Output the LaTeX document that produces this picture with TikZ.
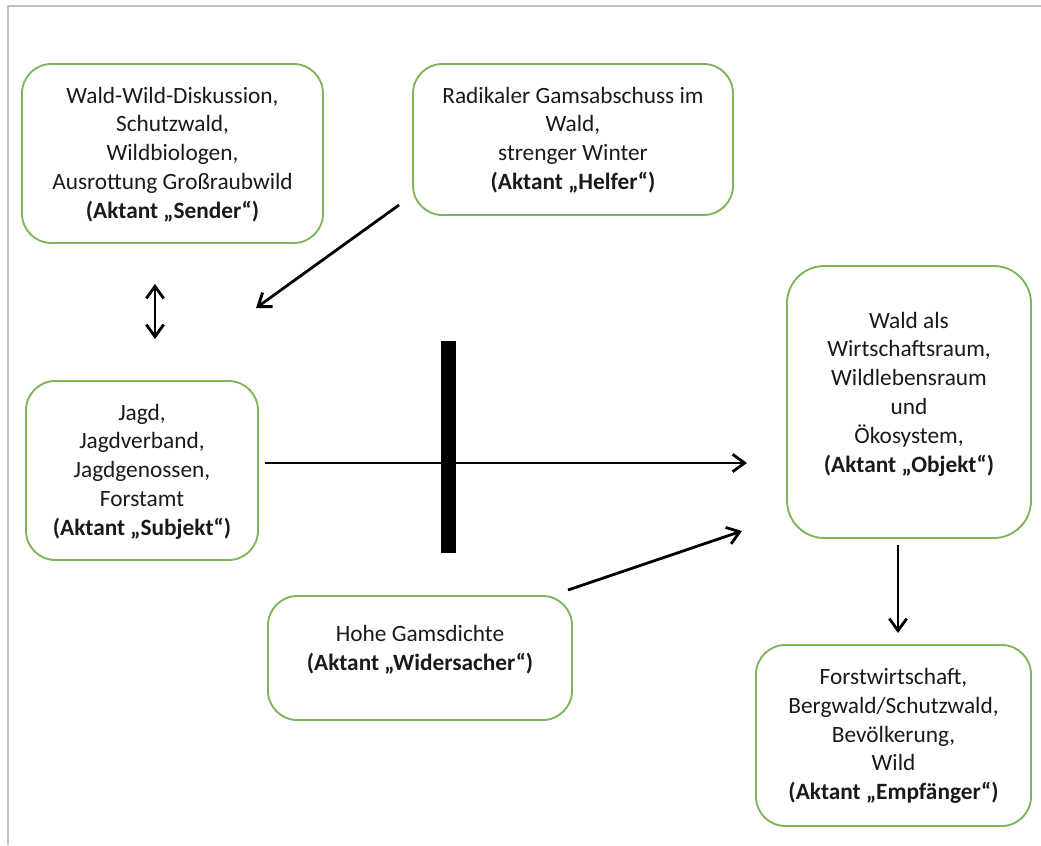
\documentclass[tikz,border=0pt]{standalone}
\usepackage{fontspec}
\setmainfont{Carlito}
\usetikzlibrary{arrows.meta}
\definecolor{boxgreen}{HTML}{7DB658}
\definecolor{framegray}{HTML}{C0C0C0}
\definecolor{ink}{HTML}{1A1A1A}
\begin{document}
\begin{tikzpicture}[x=0.75pt,y=-0.75pt,
  box/.style={draw=boxgreen, line width=1.4pt, rounded corners=22pt,
    fill=white, inner sep=0pt},
  txt/.style={align=center, text=ink, inner sep=0pt,
    font=\fontsize{17.5pt}{21.6pt}\selectfont},
  tip/.style={Straight Barb[length=9pt,width=13pt,line width=2.1pt]},
  conn/.style={draw=black, line width=2.1pt, -{Straight Barb[length=9pt,width=13pt,line width=2.1pt]}},
  dconn/.style={draw=black, line width=2.1pt,
    {Straight Barb[length=9pt,width=13pt,line width=2.1pt]}-{Straight Barb[length=9pt,width=13pt,line width=2.1pt]}}
]
% page area and thin frame
\useasboundingbox (0,0) rectangle (1041,845);
\fill[white] (0,0) rectangle (1041,845);
\draw[framegray, line width=1.5pt] (8,845) -- (8,6) -- (1041,6);

% boxes
\node[box, minimum width=301*0.75pt, minimum height=179*0.75pt] (sender) at (172.5,153.5) {};
\node[txt] (sendertxt) at (172.5,154.5) {Wald-Wild-Diskussion,\\Schutzwald,\\Wildbiologen,\\Ausrottung Großraubwild\\\textbf{(Aktant „Sender“)}};

\node[box, minimum width=320*0.75pt, minimum height=151*0.75pt] (helfer) at (573,139.5) {};
\node[txt] (helfertxt) at (573,140) {Radikaler Gamsabschuss im\\Wald,\\strenger Winter\\\textbf{(Aktant „Helfer“)}};

\node[box, minimum width=244*0.75pt, minimum height=272*0.75pt, rounded corners=28pt] (objekt) at (909,402) {};
\node[txt] (objekttxt) at (909,394) {Wald als\\Wirtschaftsraum,\\Wildlebensraum\\und\\Ökosystem,\\\textbf{(Aktant „Objekt“)}};

\node[box, minimum width=232*0.75pt, minimum height=179*0.75pt] (subjekt) at (142,470.5) {};
\node[txt] (subjekttxt) at (142,471.5) {Jagd,\\Jagdverband,\\Jagdgenossen,\\Forstamt\\\textbf{(Aktant „Subjekt“)}};

\node[box, minimum width=304*0.75pt, minimum height=124*0.75pt] (wider) at (420,658) {};
\node[txt] (widertxt) at (420,650) {Hohe Gamsdichte\\\textbf{(Aktant „Widersacher“)}};

\node[box, minimum width=275*0.75pt, minimum height=181*0.75pt] (empf) at (893.5,735.5) {};
\node[txt] (empftxt) at (893.5,736) {Forstwirtschaft,\\Bergwald/Schutzwald,\\Bevölkerung,\\Wild\\\textbf{(Aktant „Empfänger“)}};

% connector end points
\coordinate (sendbot) at (155,284);
\coordinate (subjtop) at (155,339);
\coordinate (helfout) at (399,205);
\coordinate (subjin) at (256,308);
\coordinate (subjout) at (265,463);
\coordinate (objin) at (747,463);
\coordinate (widout) at (568,590);
\coordinate (objin2) at (742,531);
\coordinate (objout) at (898,545);
\coordinate (empfin) at (898,633);

% connectors
\draw[dconn] (sendbot) -- (subjtop);
\draw[conn] (helfout) -- (subjin);
\draw[conn] (subjout) -- (objin);
\draw[conn] (widout) -- (objin2);
\draw[conn] (objout) -- (empfin);

% blocking bar across the main arrow
\node[fill=black, inner sep=0pt, minimum width=15*0.75pt, minimum height=212*0.75pt] (bar) at (448.5,447) {};
\end{tikzpicture}
\end{document}
